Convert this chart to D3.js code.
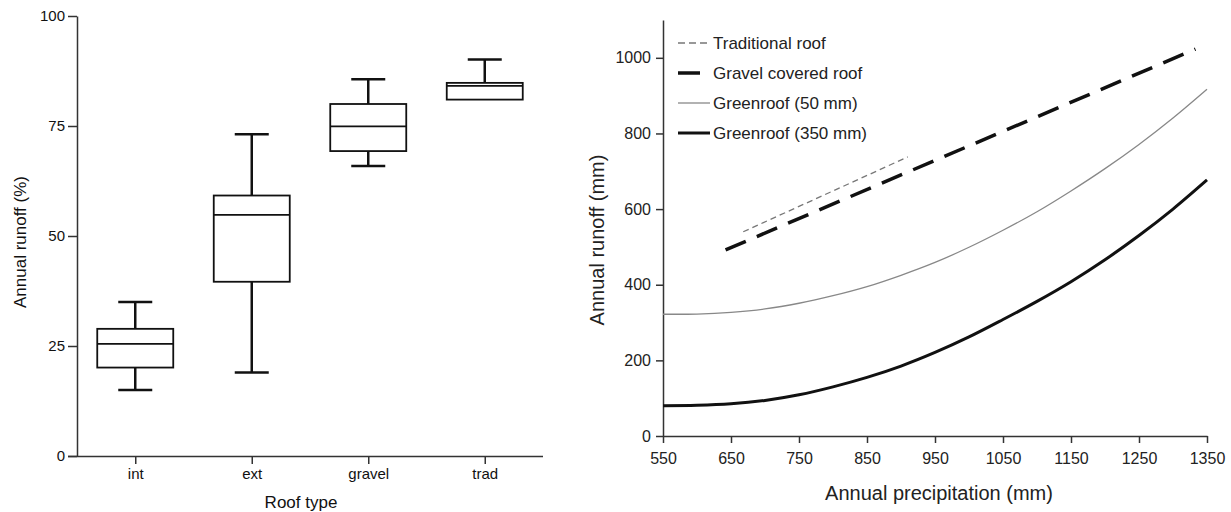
<!DOCTYPE html>
<html>
<head>
<meta charset="utf-8">
<script src="https://cdn.jsdelivr.net/npm/d3@7"></script>
<style>
  body { margin: 0; background: #fff; }
  svg { display: block; font-family: "Liberation Sans", Arial, sans-serif; }
  .axis path, .axis line { stroke: #333; stroke-width: 1.5; }
  .axis text { fill: #111; }
</style>
</head>
<body>
<script>
// ---- left panel: box plots of annual runoff by roof type
var roofTypes = ["int", "ext", "gravel", "trad"];
var whiskerLow = [15.0, 19.0, 65.9, 81.0];
var boxQ1 = [20.1, 39.6, 69.3, 81.0];
var boxMedian = [25.5, 54.8, 74.9, 84.1];
var boxQ3 = [28.9, 59.2, 80.0, 84.8];
var whiskerHigh = [35.0, 73.1, 85.6, 90.1];
var pctTicks = [0, 25, 50, 75, 100];

// ---- right panel: runoff vs precipitation
var precip = [550, 600, 650, 700, 750, 800, 850, 900, 950, 1000, 1050, 1100, 1150, 1200, 1250, 1300, 1350];
var green50 = [322, 322.5, 327, 336, 351, 371, 395, 425, 459, 499, 544, 593, 648, 707, 771, 841, 917];
var green350 = [80, 81, 85, 94, 109, 130, 155, 185, 221, 262, 308, 356, 408, 466, 530, 600, 677];
var tradPrecip = [668, 910];
var tradRunoff = [540, 738];
var gravelPrecip = [642, 1333];
var gravelRunoff = [492, 1023];
var precipTicks = [550, 650, 750, 850, 950, 1050, 1150, 1250, 1350];
var runoffTicks = [0, 200, 400, 600, 800, 1000];

var legendNames = ["Traditional roof", "Gravel covered roof", "Greenroof (50 mm)", "Greenroof (350 mm)"];

var svg_width = 1231, svg_height = 512;
var svg = d3.select("body").append("svg")
  .attr("width", svg_width)
  .attr("height", svg_height);

// ================= left chart =================
var xL = d3.scalePoint().domain(roofTypes).range([77, 543]).padding(0.5);
var yL = d3.scaleLinear().domain([0, 100]).range([456, 16]);

var yAxisL = svg.append("g")
  .attr("class", "axis")
  .attr("transform", "translate(77,0)")
  .call(d3.axisLeft(yL).tickValues(pctTicks).tickSize(9).tickSizeOuter(0).tickPadding(3));
yAxisL.selectAll("text").style("font-size", "15px");

var xAxisL = svg.append("g")
  .attr("class", "axis")
  .attr("transform", "translate(0,456)")
  .call(d3.axisBottom(xL).tickSize(8).tickSizeOuter(0).tickPadding(4));
xAxisL.select(".domain").attr("d", "M68,0.5H543");
xAxisL.selectAll("text").style("font-size", "15px");

var boxW = 76, capW = 34;
var boxes = svg.append("g").selectAll("g")
  .data(roofTypes)
  .enter().append("g");

// whiskers
boxes.append("line")
  .attr("x1", d => xL(d)).attr("x2", d => xL(d))
  .attr("y1", (d, i) => yL(whiskerHigh[i])).attr("y2", (d, i) => yL(boxQ3[i]))
  .attr("stroke", "#111").attr("stroke-width", 2.5);
boxes.append("line")
  .attr("x1", d => xL(d)).attr("x2", d => xL(d))
  .attr("y1", (d, i) => yL(boxQ1[i])).attr("y2", (d, i) => yL(whiskerLow[i]))
  .attr("stroke", "#111").attr("stroke-width", 2.5);
// caps
boxes.append("line")
  .attr("x1", d => xL(d) - capW / 2).attr("x2", d => xL(d) + capW / 2)
  .attr("y1", (d, i) => yL(whiskerHigh[i])).attr("y2", (d, i) => yL(whiskerHigh[i]))
  .attr("stroke", "#111").attr("stroke-width", 2.5);
boxes.filter((d, i) => whiskerLow[i] < boxQ1[i]).append("line")
  .attr("x1", d => xL(d) - capW / 2).attr("x2", d => xL(d) + capW / 2)
  .attr("y1", d => yL(whiskerLow[roofTypes.indexOf(d)]))
  .attr("y2", d => yL(whiskerLow[roofTypes.indexOf(d)]))
  .attr("stroke", "#111").attr("stroke-width", 2.5);
// box
boxes.append("rect")
  .attr("x", d => xL(d) - boxW / 2)
  .attr("width", boxW)
  .attr("y", (d, i) => yL(boxQ3[i]))
  .attr("height", (d, i) => yL(boxQ1[i]) - yL(boxQ3[i]))
  .attr("fill", "#fff").attr("stroke", "#111").attr("stroke-width", 1.8);
// median
boxes.append("line")
  .attr("x1", d => xL(d) - boxW / 2).attr("x2", d => xL(d) + boxW / 2)
  .attr("y1", (d, i) => yL(boxMedian[i])).attr("y2", (d, i) => yL(boxMedian[i]))
  .attr("stroke", "#111").attr("stroke-width", 1.8);

svg.append("text")
  .attr("text-anchor", "middle")
  .attr("transform", "translate(26,242) rotate(-90)")
  .style("font-size", "17px").style("fill", "#111")
  .text("Annual runoff (%)");
svg.append("text")
  .attr("text-anchor", "middle")
  .attr("x", 301).attr("y", 508)
  .style("font-size", "17px").style("fill", "#111")
  .text("Roof type");

// ================= right chart =================
var xR = d3.scaleLinear().domain([550, 1350]).range([663, 1207]);
var yR = d3.scaleLinear().domain([0, 1100]).range([436, 20]);

var yAxisR = svg.append("g")
  .attr("class", "axis")
  .attr("transform", "translate(663,0)")
  .call(d3.axisLeft(yR).tickValues(runoffTicks).tickFormat(d3.format("d"))
    .tickSize(7).tickSizeOuter(0).tickPadding(5));
yAxisR.select(".domain").attr("stroke", "#555");
yAxisR.selectAll("line").attr("stroke", "#555");
yAxisR.selectAll("text").style("font-size", "16px").style("fill", "#222");

var xAxisR = svg.append("g")
  .attr("class", "axis")
  .attr("transform", "translate(0,436)")
  .call(d3.axisBottom(xR).tickValues(precipTicks).tickFormat(d3.format("d"))
    .tickSize(7).tickSizeOuter(0).tickPadding(10));
xAxisR.select(".domain").attr("stroke", "#555");
xAxisR.selectAll("line").attr("stroke", "#555");
xAxisR.selectAll("text").style("font-size", "16px").style("fill", "#222");

var line = d3.line()
  .x(d => xR(d[0]))
  .y(d => yR(d[1]))
  .curve(d3.curveCatmullRom);

var series = [
  { name: legendNames[0], pts: d3.zip(tradPrecip, tradRunoff), stroke: "#777", width: 1.3, dash: "6,4" },
  { name: legendNames[1], pts: d3.zip(gravelPrecip, gravelRunoff), stroke: "#111", width: 3.5, dash: "22,12" },
  { name: legendNames[2], pts: d3.zip(precip, green50), stroke: "#888", width: 1.3, dash: null },
  { name: legendNames[3], pts: d3.zip(precip, green350), stroke: "#111", width: 3, dash: null }
];

svg.append("g").selectAll("path")
  .data(series)
  .enter().append("path")
  .attr("d", d => line(d.pts))
  .attr("fill", "none")
  .attr("stroke", d => d.stroke)
  .attr("stroke-width", d => d.width)
  .attr("stroke-dasharray", d => d.dash);

// legend
var legend = svg.append("g").selectAll("g")
  .data(series)
  .enter().append("g")
  .attr("transform", (d, i) => "translate(678," + (43 + i * 30) + ")");
legend.append("line")
  .attr("x1", 0).attr("x2", d => d.name === legendNames[1] ? 22 : 32)
  .attr("stroke", d => d.stroke)
  .attr("stroke-width", d => d.width)
  .attr("stroke-dasharray", d => d.name === legendNames[0] ? "7,4" : null);
legend.append("text")
  .attr("x", 35).attr("dy", "0.35em")
  .style("font-size", "17px").style("fill", "#222")
  .text(d => d.name);

svg.append("text")
  .attr("text-anchor", "middle")
  .attr("transform", "translate(604,240) rotate(-90)")
  .style("font-size", "20px").style("fill", "#222")
  .text("Annual runoff (mm)");
svg.append("text")
  .attr("text-anchor", "middle")
  .attr("x", 939).attr("y", 500)
  .style("font-size", "20px").style("fill", "#222")
  .text("Annual precipitation (mm)");
</script>
</body>
</html>
